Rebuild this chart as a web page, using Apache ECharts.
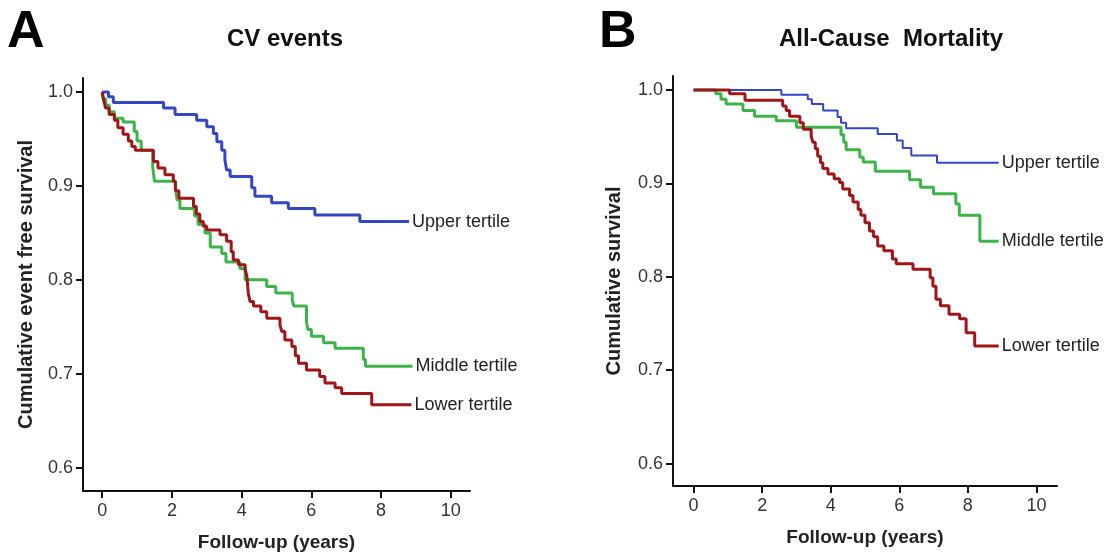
<!DOCTYPE html>
<html>
<head>
<meta charset="utf-8">
<script src="https://cdn.jsdelivr.net/npm/echarts@6/dist/echarts.min.js"></script>
<style>
  html, body { margin: 0; padding: 0; background: #fff; }
  #chart { width: 1112px; height: 557px; }
</style>
</head>
<body>
<div id="chart"></div>
<script>
// Kaplan-Meier steps: [years, survival after the drop]
var cvUpper = [[0,1.0],[0.18,0.995],[0.32,0.989],[1.76,0.983],[2.09,0.976],[2.71,0.970],[3.0,0.963],[3.19,0.956],
  [3.29,0.947],[3.43,0.938],[3.52,0.928],[3.57,0.917],[3.67,0.910],[4.29,0.898],[4.38,0.889],[4.86,0.882],
  [5.34,0.876],[6.10,0.869],[7.39,0.862],[8.8,0.862]];
var cvMiddle = [[0,1.0],[0.03,0.993],[0.1,0.986],[0.2,0.979],[0.35,0.972],[0.6,0.968],[0.92,0.958],[1.0,0.948],
  [1.12,0.938],[1.45,0.92],[1.5,0.905],[2.1,0.898],[2.15,0.885],[2.23,0.876],[2.65,0.868],[2.75,0.859],
  [2.95,0.850],[3.1,0.835],[3.43,0.828],[3.55,0.819],[3.95,0.812],[4.1,0.800],[4.72,0.793],[4.98,0.786],
  [5.45,0.779],[5.5,0.772],[5.86,0.755],[5.9,0.747],[6.0,0.740],[6.35,0.733],[6.68,0.727],[7.49,0.715],
  [7.55,0.708],[8.9,0.708]];
var cvLower = [[0,1.0],[0.05,0.99],[0.1,0.983],[0.2,0.976],[0.35,0.970],[0.45,0.962],[0.6,0.955],[0.75,0.948],
  [0.85,0.942],[0.95,0.938],[1.47,0.926],[1.6,0.919],[1.8,0.912],[2.04,0.905],[2.1,0.895],[2.2,0.887],
  [2.62,0.878],[2.7,0.870],[2.8,0.862],[2.9,0.857],[3.0,0.853],[3.38,0.848],[3.57,0.841],[3.7,0.830],
  [3.76,0.821],[3.91,0.816],[4.1,0.811],[4.15,0.804],[4.19,0.786],[4.24,0.777],[4.34,0.772],[4.55,0.766],
  [4.72,0.759],[5.1,0.752],[5.15,0.745],[5.24,0.736],[5.44,0.729],[5.54,0.719],[5.63,0.711],[5.86,0.704],
  [6.24,0.697],[6.39,0.690],[6.68,0.685],[6.87,0.679],[7.73,0.667],[8.87,0.667]];

var acmUpper = [[0,1.0],[2.56,0.995],[3.33,0.990],[3.45,0.985],[3.78,0.978],[4.2,0.971],[4.3,0.965],[4.45,0.959],
  [5.37,0.953],[5.93,0.946],[6.1,0.938],[6.35,0.930],[7.1,0.922],[8.9,0.922]];
var acmMiddle = [[0,1.0],[0.65,0.996],[0.8,0.990],[0.95,0.985],[1.44,0.978],[1.78,0.972],[2.41,0.967],[3.0,0.960],
  [4.3,0.952],[4.38,0.944],[4.45,0.936],[4.85,0.928],[4.95,0.923],[5.3,0.913],[6.3,0.904],[6.62,0.896],
  [7.0,0.889],[7.65,0.878],[7.75,0.866],[8.35,0.838],[8.9,0.838]];
var acmLower = [[0,1.0],[1.05,0.996],[1.5,0.989],[2.6,0.983],[2.7,0.978],[2.8,0.972],[3.1,0.965],[3.2,0.958],
  [3.43,0.951],[3.48,0.944],[3.55,0.937],[3.62,0.929],[3.7,0.922],[3.77,0.916],[3.92,0.910],[4.1,0.905],
  [4.26,0.901],[4.35,0.894],[4.55,0.887],[4.65,0.880],[4.8,0.872],[4.88,0.866],[5.0,0.858],[5.13,0.849],
  [5.25,0.843],[5.37,0.833],[5.55,0.828],[5.8,0.819],[5.91,0.814],[6.4,0.808],[6.9,0.799],[6.98,0.790],
  [7.07,0.776],[7.2,0.769],[7.45,0.760],[7.76,0.755],[7.95,0.740],[8.2,0.726],[8.9,0.726]];

var xTicks = [0, 2, 4, 6, 8, 10];
var yTicks = [0.6, 0.7, 0.8, 0.9, 1.0];
var tertileNames = ['Upper tertile', 'Middle tertile', 'Lower tertile'];

var FONT = '"Liberation Sans", Arial, sans-serif';
var BLUE = '#3346c4', GREEN = '#3cb44a', RED = '#a01618';

function xAxisOf(idx, min, max) {
  return {
    type: 'value', gridIndex: idx, min: min, max: max,
    name: 'Follow-up (years)', nameLocation: 'middle', nameGap: 42,
    nameTextStyle: { fontFamily: FONT, fontSize: 19, fontWeight: 'bold', color: '#222' },
    axisLine: { onZero: false, lineStyle: { color: '#111', width: 2 } },
    axisTick: { length: 7, lineStyle: { color: '#111', width: 2 }, customValues: xTicks },
    axisLabel: { fontFamily: FONT, fontSize: 18, color: '#333', margin: 11, customValues: xTicks },
    splitLine: { show: false }
  };
}
function yAxisOf(idx, min, max, name, gap) {
  return {
    type: 'value', gridIndex: idx, min: min, max: max,
    name: name, nameLocation: 'middle', nameGap: gap,
    nameTextStyle: { fontFamily: FONT, fontSize: 20, fontWeight: 'bold', color: '#222' },
    axisLine: { onZero: false, lineStyle: { color: '#111', width: 2 } },
    axisTick: { length: 7, lineStyle: { color: '#111', width: 2 }, customValues: yTicks },
    axisLabel: { fontFamily: FONT, fontSize: 18, color: '#333', margin: 10, customValues: yTicks,
      formatter: function (v) { return v.toFixed(1); } },
    splitLine: { show: false }
  };
}
function km(idx, data, color, width, label) {
  return {
    type: 'line', step: 'end', xAxisIndex: idx, yAxisIndex: idx,
    data: data, showSymbol: false, symbol: 'none', silent: true,
    lineStyle: { color: color, width: width },
    endLabel: { show: true, formatter: label, distance: 3,
      fontFamily: FONT, fontSize: 18, color: '#222' }
  };
}

var chart = echarts.init(document.getElementById('chart'));
chart.setOption({
  animation: false,
  backgroundColor: '#fff',
  title: [
    { text: 'A', left: 2, top: 2, textStyle: { fontFamily: FONT, fontSize: 52, fontWeight: 'bold', color: '#000' } },
    { text: 'CV events', left: 280, top: 22, textAlign: 'center',
      textStyle: { fontFamily: FONT, fontSize: 24, fontWeight: 'bold', color: '#111' } },
    { text: 'B', left: 594, top: 2, textStyle: { fontFamily: FONT, fontSize: 52, fontWeight: 'bold', color: '#000' } },
    { text: 'All-Cause  Mortality', left: 886, top: 22, textAlign: 'center',
      textStyle: { fontFamily: FONT, fontSize: 24, fontWeight: 'bold', color: '#111' } }
  ],
  grid: [
    { left: 83, top: 78, width: 387, height: 413 },
    { left: 673, top: 76, width: 384, height: 410 }
  ],
  xAxis: [xAxisOf(0, -0.55, 10.55), xAxisOf(1, -0.6, 10.6)],
  yAxis: [yAxisOf(0, 0.575, 1.015, 'Cumulative event free survival', 47),
          yAxisOf(1, 0.576, 1.015, 'Cumulative survival', 49)],
  series: [
    km(0, cvUpper, BLUE, 3, tertileNames[0]),
    km(0, cvMiddle, GREEN, 3, tertileNames[1]),
    km(0, cvLower, RED, 3, tertileNames[2]),
    km(1, acmUpper, BLUE, 2, tertileNames[0]),
    km(1, acmMiddle, GREEN, 3, tertileNames[1]),
    km(1, acmLower, RED, 3, tertileNames[2])
  ]
});
</script>
</body>
</html>
